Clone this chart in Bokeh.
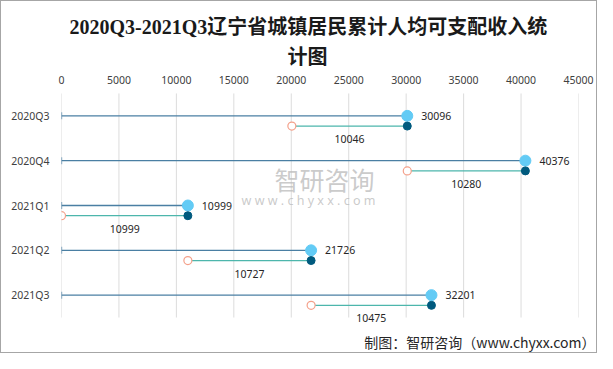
import math
from bokeh.plotting import figure
from bokeh.models import ColumnDataSource, FactorRange, Range1d, Label, FixedTicker, Title
from bokeh.transform import dodge
from bokeh.core.properties import value
from bokeh.embed import file_html
from bokeh.resources import INLINE

# ---- data ----
categories = ["2020Q3", "2020Q4", "2021Q1", "2021Q2", "2021Q3"]
cumulative = [30096, 40376, 10999, 21726, 32201]
increment = [10046, 10280, 10999, 10727, 10475]
x_ticks = [0, 5000, 10000, 15000, 20000, 25000, 30000, 35000, 40000, 45000]

title_line1 = "2020Q3-2021Q3辽宁省城镇居民累计人均可支配收入统"
title_line2 = "计图"
source_text = "制图：智研咨询（www.chyxx.com）"

start = [c - i for c, i in zip(cumulative, increment)]
mid = [(s + c) / 2 for s, c in zip(start, cumulative)]

src = ColumnDataSource(dict(
    cat=categories,
    cum=cumulative,
    inc=increment,
    start=start,
    mid=mid,
    zero=[0] * len(categories),
    cum_lbl=[str(v) for v in cumulative],
    inc_lbl=[str(v) for v in increment],
))
grid_src = ColumnDataSource(dict(
    x=x_ticks,
    top=[categories[0]] * len(x_ticks),
    bottom=[categories[-1]] * len(x_ticks),
))

LATIN_FONT = "Noto Sans"
TITLE_FONT = "Liberation Serif, Noto Sans CJK SC"

p = figure(
    width=597, height=353,
    x_range=Range1d(0, 45000),
    y_range=FactorRange(factors=categories[::-1], range_padding=0.2,
                        range_padding_units="absolute"),
    x_axis_location="above",
    output_backend="svg", toolbar_location=None,
    min_border_left=60, min_border_right=20,
    min_border_top=83, min_border_bottom=27,
)
p.title = None
p.outline_line_color = None
p.background_fill_color = "white"
p.border_fill_color = "white"
p.styles = {"border": "1px solid #A6A6A6"}

# title: two lines centred near the middle of the chart (line 2 closest to the axis)
p.add_layout(Title(text=title_line2, align="left", offset=226, text_font=TITLE_FONT,
                   text_font_size="20px", text_font_style="bold",
                   text_color="#1A1A1A", standoff=10), "above")
p.add_layout(Title(text=title_line1, align="left", offset=8, text_font=TITLE_FONT,
                   text_font_size="20px", text_font_style="bold",
                   text_color="#1A1A1A", standoff=2), "above")
p.add_layout(Title(text=source_text, align="right", offset=-17, standoff=6,
                   text_font="Noto Sans CJK SC", text_font_size="14px",
                   text_font_style="normal", text_color="#262626"), "below")

# axes
p.xaxis.ticker = FixedTicker(ticks=x_ticks)
p.xaxis.axis_line_color = None
p.xaxis.major_tick_line_color = None
p.xaxis.minor_tick_line_color = None
p.xaxis.major_tick_out = 0
p.xaxis.major_label_standoff = 1
p.xaxis.major_label_text_font = LATIN_FONT
p.xaxis.major_label_text_font_size = "10.5px"
p.xaxis.major_label_text_color = "#404040"

p.yaxis.axis_line_color = None
p.yaxis.major_tick_line_color = None
p.yaxis.minor_tick_line_color = None
p.yaxis.major_tick_out = 0
p.yaxis.major_label_standoff = 12
p.yaxis.major_label_text_font = LATIN_FONT
p.yaxis.major_label_text_font_size = "10.5px"
p.yaxis.major_label_text_color = "#404040"

p.xgrid.grid_line_color = None
p.ygrid.grid_line_color = None

# vertical grid lines spanning the category bands
p.segment(x0="x", x1="x",
          y0=dodge("top", 0.5, range=p.y_range),
          y1=dodge("bottom", -0.5, range=p.y_range),
          source=grid_src, line_color="#DCDCDC", line_width=1, level="underlay")

low_y = dodge("cat", -0.228, range=p.y_range)
lbl_y = dodge("cat", -0.52, range=p.y_range)

# watermark
wm1 = Label(x=263, y=148, x_units="screen", y_units="screen", text="智研咨询",
            text_font="Noto Sans CJK SC", text_font_size="25px",
            text_color="#BDBDBD", text_alpha=0.8, text_baseline="middle", text_align="center")
wm2 = Label(x=247, y=126, x_units="screen", y_units="screen", text="w w w . c h y x x . c o m",
            text_font=LATIN_FONT, text_font_size="12.5px",
            text_color="#BDBDBD", text_alpha=0.8, text_baseline="middle", text_align="center")
p.add_layout(wm1)
p.add_layout(wm2)

# upper segments: cumulative
p.segment(x0="zero", y0="cat", x1="cum", y1="cat", source=src,
          line_color="#4A7FA3", line_width=1.3)
p.scatter(x="zero", y="cat", source=src, marker="dash", angle=math.pi / 2,
          size=7, line_color="#4A7FA3", line_width=1.3)
p.scatter(x="cum", y="cat", source=src, marker="circle", size=11,
          fill_color="#63CBF5", line_color="#63CBF5")

# lower segments: increment
p.segment(x0="start", y0=low_y, x1="cum", y1=low_y, source=src,
          line_color="#4DB6AC", line_width=1.3)
p.scatter(x="start", y=low_y, source=src, marker="circle", size=8,
          fill_color="white", line_color="#F4A08A", line_width=1.2)
p.scatter(x="cum", y=low_y, source=src, marker="circle", size=8,
          fill_color="#005A7E", line_color="#005A7E")

# labels
p.text(x="cum", y="cat", text="cum_lbl", source=src, x_offset=14,
       text_font=value(LATIN_FONT), text_font_size="10.5px", text_color="#262626",
       text_baseline="middle", text_align="left")
p.text(x="mid", y=lbl_y, text="inc_lbl", source=src,
       text_font=value(LATIN_FONT), text_font_size="10.5px", text_color="#262626",
       text_baseline="middle", text_align="center")

open("out.html", "w").write(file_html(p, INLINE))
